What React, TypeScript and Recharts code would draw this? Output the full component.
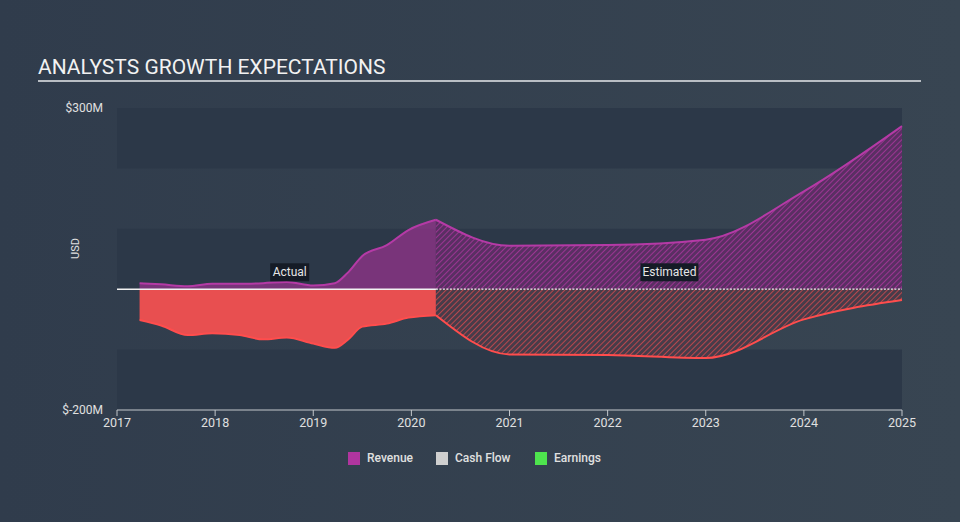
import { ComposedChart, Area, XAxis, YAxis, ReferenceArea, ReferenceLine, ReferenceDot } from 'recharts';

// actual (reported) history
const actualYears = [2017.23, 2017.45, 2017.72, 2017.97, 2018.25, 2018.49, 2018.73, 2019.0, 2019.22, 2019.35, 2019.5, 2019.75, 2019.97, 2020.25];
const actualRevenue = [10, 8, 5, 9, 9, 10, 12, 6, 10, 27, 55, 73, 98, 115];
const actualCashFlow = [-51, -60, -76, -73, -76, -83, -80, -90, -97, -84, -62, -57, -47, -43];

// analyst estimates
const estimateYears = [2020.25, 2021, 2022, 2023, 2024, 2025];
const estimateRevenue = [115, 72, 73, 82, 162, 270];
const estimateCashFlow = [-43, -108, -109, -114, -50, -18];

const yearTicks = [2017, 2018, 2019, 2020, 2021, 2022, 2023, 2024, 2025];
const valueTicks = [-200, -100, 0, 100, 200, 300];
const shownValueTicks = [-200, 300];
const bands: [number, number][] = [[200, 300], [0, 100], [-200, -100]];

const legendItems = [
    { name: 'Revenue', color: '#b0359f', left: 348 },
    { name: 'Cash Flow', color: '#cfcfcf', left: 436 },
    { name: 'Earnings', color: '#4ee44e', left: 535 },
];

const rows: any[] = [];
actualYears.forEach((x, i) => {
    rows.push({ x, revA: actualRevenue[i], cfA: actualCashFlow[i], revE: null, cfE: null });
});
estimateYears.forEach((x, i) => {
    const existing = rows.find((r) => r.x === x);
    if (existing) {
        existing.revE = estimateRevenue[i];
        existing.cfE = estimateCashFlow[i];
    } else {
        rows.push({ x, revA: null, cfA: null, revE: estimateRevenue[i], cfE: estimateCashFlow[i] });
    }
});

const fmtMoney = (v: number) => (shownValueTicks.includes(v) ? `$${v}M` : '');

function TagLabel(props: any) {
    const { viewBox, text, w } = props;
    const cx = viewBox.x;
    const cy = viewBox.y;
    return (
        <g>
            <rect x={cx - w / 2} y={cy - 9} width={w} height={18} fill="#151b26" />
            <text x={cx} y={cy + 4} textAnchor="middle" fill="#e6e6e6" fontSize={12} fontFamily="Roboto">
                {text}
            </text>
        </g>
    );
}

export default function App() {
    return (
        <div
            style={{
                position: 'absolute',
                left: 0,
                top: 0,
                width: 960,
                height: 522,
                background: 'linear-gradient(to right, #303c4c, #384552)',
                fontFamily: 'Roboto',
                overflow: 'hidden',
            }}
        >
            <div style={{ position: 'absolute', left: 38, top: 55, fontSize: 21, color: '#f2f2f2' }}>
                ANALYSTS GROWTH EXPECTATIONS
            </div>
            <div style={{ position: 'absolute', left: 38, top: 80, width: 883, height: 2, background: '#b9bec4' }} />

            <ComposedChart
                width={960}
                height={522}
                data={rows}
                margin={{ top: 108, right: 58, bottom: 82, left: 57 }}
                style={{ position: 'absolute', left: 0, top: 0 }}
            >
                <defs>
                    <pattern id="hatchRev" patternUnits="userSpaceOnUse" width="4" height="4" patternTransform="rotate(45)">
                        <rect width="4" height="4" fill="#5a2f63" />
                        <line x1="0" y1="0" x2="0" y2="4" stroke="#9b3592" strokeWidth="2" />
                    </pattern>
                    <pattern id="hatchCf" patternUnits="userSpaceOnUse" width="4" height="4" patternTransform="rotate(45)">
                        <rect width="4" height="4" fill="#473c4a" />
                        <line x1="0" y1="0" x2="0" y2="4" stroke="#b8474c" strokeWidth="2" />
                    </pattern>
                </defs>
                {bands.map(([a, b]) => (
                    <ReferenceArea key={a} y1={a} y2={b} x1={2017} x2={2025} fill="#2c3848" fillOpacity={1} stroke="none" />
                ))}
                <XAxis
                    type="number"
                    dataKey="x"
                    domain={[2017, 2025]}
                    ticks={yearTicks}
                    stroke="#c4c8cc"
                    tick={{ fill: '#e0e0e0', fontSize: 12.5 }}
                    tickSize={6}
                    tickMargin={2}
                    height={30}
                    allowDecimals={false}
                />
                <YAxis
                    type="number"
                    domain={[-200, 300]}
                    ticks={valueTicks}
                    tickFormatter={fmtMoney}
                    axisLine={false}
                    tickLine={false}
                    tickSize={0}
                    tickMargin={14}
                    width={60}
                    tick={{ fill: '#e0e0e0', fontSize: 12 }}
                    label={{ value: 'USD', angle: -90, position: 'insideLeft', offset: 18, fill: '#e0e0e0', fontSize: 11 }}
                />
                <Area type="monotone" dataKey="revA" baseValue={0} stroke="#b53aa6" strokeWidth={2} fill="#9a3390" fillOpacity={0.7} isAnimationActive={false} dot={false} />
                <Area type="monotone" dataKey="cfA" baseValue={0} stroke="#ff4d4d" strokeWidth={2} fill="#e84f50" fillOpacity={1} isAnimationActive={false} dot={false} />
                <Area type="monotone" dataKey="revE" baseValue={0} stroke="#b53aa6" strokeWidth={2} fill="url(#hatchRev)" fillOpacity={1} isAnimationActive={false} dot={false} />
                <Area type="monotone" dataKey="cfE" baseValue={0} stroke="#ff4d4d" strokeWidth={2} fill="url(#hatchCf)" fillOpacity={1} isAnimationActive={false} dot={false} />
                <ReferenceLine segment={[{ x: 2017, y: 0 }, { x: 2020.25, y: 0 }]} stroke="#f2f2f2" strokeWidth={1.5} />
                <ReferenceLine segment={[{ x: 2020.25, y: 0 }, { x: 2025, y: 0 }]} stroke="#f2f2f2" strokeWidth={1.2} strokeDasharray="2 1.5" />
                <ReferenceDot x={2018.76} y={28} r={0} fill="none" stroke="none" label={<TagLabel text="Actual" w={39} />} />
                <ReferenceDot x={2022.63} y={28} r={0} fill="none" stroke="none" label={<TagLabel text="Estimated" w={58} />} />
            </ComposedChart>

            {legendItems.map((item) => (
                <div
                    key={item.name}
                    style={{ position: 'absolute', top: 451, left: item.left, display: 'flex', alignItems: 'center', gap: 7, fontSize: 12, fontWeight: 500, color: '#e0e0e0' }}
                >
                    <span style={{ display: 'inline-block', width: 12, height: 13, background: item.color }} />
                    <span>{item.name}</span>
                </div>
            ))}
        </div>
    );
}
